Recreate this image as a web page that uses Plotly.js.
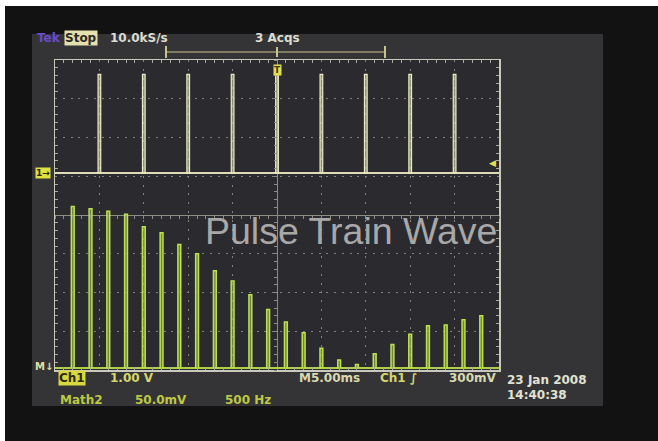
<!DOCTYPE html>
<html>
<head>
<meta charset="utf-8">
<script src="https://cdn.plot.ly/plotly-3.0.1.min.js"></script>
<style>html,body{margin:0;padding:0;background:#121212;}#chart{width:658px;height:441px;}</style>
</head>
<body>
<div id="chart"></div>
<script>
// ---- Data ----
// Ch1: pulse train, time relative to trigger (ms), amplitude (V)
const pulseTimes = [-20, -15, -10, -5, 0, 5, 10, 15, 20];
const pulseAmps  = [2.55, 2.55, 2.55, 2.55, 2.55, 2.55, 2.55, 2.55, 2.55];
// Math2: FFT harmonics (Hz) and magnitudes (mV)
const harmonicFreqs = [200, 400, 600, 800, 1000, 1200, 1400, 1600, 1800, 2000, 2200, 2400,
                       2600, 2800, 3000, 3200, 3400, 3600, 3800, 4000, 4200, 4400, 4600, 4800];
const harmonicMags  = [208, 205, 202, 198, 182, 174, 159, 147, 125, 112, 94, 75,
                       59, 45, 25, 10, 4, 18, 30, 43, 54, 55, 62, 67];

// ---- Layout geometry (pixels) ----
const L = 55, T = 60, W = 444, H = 310;
const X = px => (px - L) / W;
const Y = py => (T + H - py) / H;

const traces = [
  { type: 'bar', x: harmonicFreqs, y: harmonicMags, xaxis: 'x2', yaxis: 'y2', width: 32,
    marker: { color: 'rgba(150,172,84,0.65)', line: { color: '#bce24c', width: 1.5 } },
    hoverinfo: 'skip', showlegend: false },
  { type: 'bar', x: pulseTimes, y: pulseAmps, xaxis: 'x', yaxis: 'y', width: 0.3,
    marker: { color: 'rgba(196,200,160,0.6)', line: { color: '#ececc4', width: 1.2 } },
    hoverinfo: 'skip', showlegend: false },
  { type: 'scatter', x: [], y: [], xaxis: 'x3', yaxis: 'y3', showlegend: false },
  { type: 'scatter', x: [], y: [], xaxis: 'x', yaxis: 'y4', showlegend: false }
];

const gridCol = '#82827a';
const borderCol = '#c8c8bc';
const fontScope = 'DejaVu Sans, sans-serif';

function ann(text, x, y, color, opts) {
  return Object.assign({
    text: text, xref: 'paper', yref: 'paper', x: X(x), y: Y(y),
    xanchor: 'left', yanchor: 'middle', showarrow: false,
    font: { family: fontScope, size: 12, color: color }
  }, opts || {});
}

const layout = {
  width: 658, height: 441,
  margin: { l: L, r: 658 - L - W, t: T, b: 441 - T - H, pad: 0 },
  paper_bgcolor: '#121212',
  plot_bgcolor: 'rgba(0,0,0,0)',
  showlegend: false,
  xaxis: {
    range: [-25, 25], dtick: 5, tick0: -25, showgrid: true, gridcolor: gridCol,
    griddash: '2px,6.9px', gridwidth: 1,
    zeroline: true, zerolinecolor: '#8c8c84', zerolinewidth: 1,
    showline: true, mirror: 'allticks', linecolor: borderCol, linewidth: 1.5,
    ticks: '', showticklabels: false,
    minor: { dtick: 1, tick0: -25, ticks: 'inside', ticklen: 3, tickcolor: '#a8a8a0', showgrid: false }
  },
  yaxis: {
    range: [-5.08, 2.92], showgrid: false, showticklabels: false, ticks: '',
    zeroline: true, zerolinecolor: '#dedcb8', zerolinewidth: 2
  },
  xaxis2: { range: [0, 5000], overlaying: 'x', visible: false },
  yaxis2: {
    range: [-3, 397], overlaying: 'y', showgrid: false, showticklabels: false, ticks: '',
    zeroline: true, zerolinecolor: '#b0d048', zerolinewidth: 2, showline: false
  },
  xaxis3: {
    range: [-25, 25], overlaying: 'x', anchor: 'free', position: 0.5,
    showgrid: false, zeroline: false, showline: false, showticklabels: false,
    ticks: 'outside', ticklen: 3, dtick: 1, tick0: -25, tickcolor: '#8c8c84'
  },
  yaxis3: {
    range: [-4, 4], overlaying: 'y', anchor: 'x', dtick: 1, tick0: -4,
    showgrid: true, gridcolor: gridCol, griddash: '2px,5.75px', gridwidth: 1,
    zeroline: true, zerolinecolor: '#8c8c84', zerolinewidth: 1,
    showline: true, mirror: 'allticks', linecolor: borderCol, linewidth: 1.5,
    showticklabels: false, ticks: '',
    minor: { dtick: 0.2, tick0: -4, ticks: 'inside', ticklen: 3, tickcolor: '#a8a8a0', showgrid: false }
  },
  yaxis4: {
    range: [-4, 4], overlaying: 'y', anchor: 'free', position: 0.5,
    showgrid: false, zeroline: false, showline: false, showticklabels: false,
    ticks: 'outside', ticklen: 3, dtick: 0.2, tick0: -4, tickcolor: '#8c8c84'
  },
  shapes: [
    { type: 'rect', xref: 'paper', yref: 'paper', layer: 'below', x0: X(0), x1: X(658), y0: Y(0), y1: Y(6), fillcolor: '#ffffff', line: { width: 0 } },
    { type: 'rect', xref: 'paper', yref: 'paper', layer: 'below', x0: X(0), x1: X(5), y0: Y(0), y1: Y(441), fillcolor: '#ffffff', line: { width: 0 } },
    { type: 'rect', xref: 'paper', yref: 'paper', layer: 'below', x0: X(32), x1: X(603), y0: Y(34), y1: Y(406), fillcolor: '#343436', line: { width: 0 } },
    { type: 'rect', xref: 'paper', yref: 'paper', layer: 'below', x0: X(55), x1: X(499), y0: Y(60), y1: Y(370), fillcolor: '#2b2b2f', line: { width: 0 } },
    // acquisition bracket
    { type: 'line', xref: 'paper', yref: 'paper', x0: X(166), x1: X(385), y0: Y(52), y1: Y(52), line: { color: '#c4c48c', width: 1.2 } },
    { type: 'line', xref: 'paper', yref: 'paper', x0: X(166), x1: X(166), y0: Y(46), y1: Y(58), line: { color: '#c4c48c', width: 2 } },
    { type: 'line', xref: 'paper', yref: 'paper', x0: X(385), x1: X(385), y0: Y(46), y1: Y(58), line: { color: '#c4c48c', width: 2 } },
    { type: 'line', xref: 'paper', yref: 'paper', x0: X(277), x1: X(277), y0: Y(47), y1: Y(57), line: { color: '#c4c48c', width: 2 } }
  ],
  annotations: [
    ann('<b>Tek</b>', 35, 38, '#6a4ad0'),
    ann('<b>Stop</b>', 64, 38, '#2a2a24', { bgcolor: '#e4e0b0', borderpad: 0 }),
    ann('<b>10.0kS/s</b>', 108, 38, '#dcdcd0'),
    ann('<b>3 Acqs</b>', 253, 38, '#dcdcd0'),
    ann('<b>T</b>', 277, 70, '#3a3a20', { xanchor: 'center', bgcolor: '#e2e050', borderpad: 0, font: { family: fontScope, size: 9, color: '#3a3a20' } }),
    ann('<b>1→</b>', 35, 173, '#2a2a10', { bgcolor: '#e0e040', borderpad: 0, font: { family: fontScope, size: 9, color: '#2a2a10' } }),
    ann('◀', 487, 163, '#e2e050', { font: { family: fontScope, size: 9, color: '#e2e050' } }),
    ann('<b>M↓</b>', 33, 366, '#e0e0a0', { font: { family: fontScope, size: 10, color: '#e0e0a0' } }),
    ann('Pulse Train Wave', 351, 231, '#a8a8a8', { xanchor: 'center', font: { family: 'Liberation Sans, Arial, sans-serif', size: 37.5, color: '#a8a8a8' } }),
    ann('<b>Ch1</b>', 58, 378, '#2a2a10', { bgcolor: '#d8d840', borderpad: 0 }),
    ann('<b>1.00 V</b>', 108, 378, '#d6d66c'),
    ann('<b>M5.00ms</b>', 297, 378, '#d8d8b0'),
    ann('<b>Ch1 ∫</b>', 378, 378, '#d6d66c'),
    ann('<b>300mV</b>', 447, 378, '#d8d8b0'),
    ann('<b>23 Jan 2008</b>', 505, 380, '#e2e2d2'),
    ann('<b>14:40:38</b>', 505, 395, '#e2e2d2'),
    ann('<b>Math2</b>', 58, 400, '#bcc844'),
    ann('<b>50.0mV</b>', 133, 400, '#bcc844'),
    ann('<b>500 Hz</b>', 223, 400, '#bcc844')
  ]
};

Plotly.newPlot('chart', traces, layout, { staticPlot: true, displayModeBar: false });
</script>
</body>
</html>
